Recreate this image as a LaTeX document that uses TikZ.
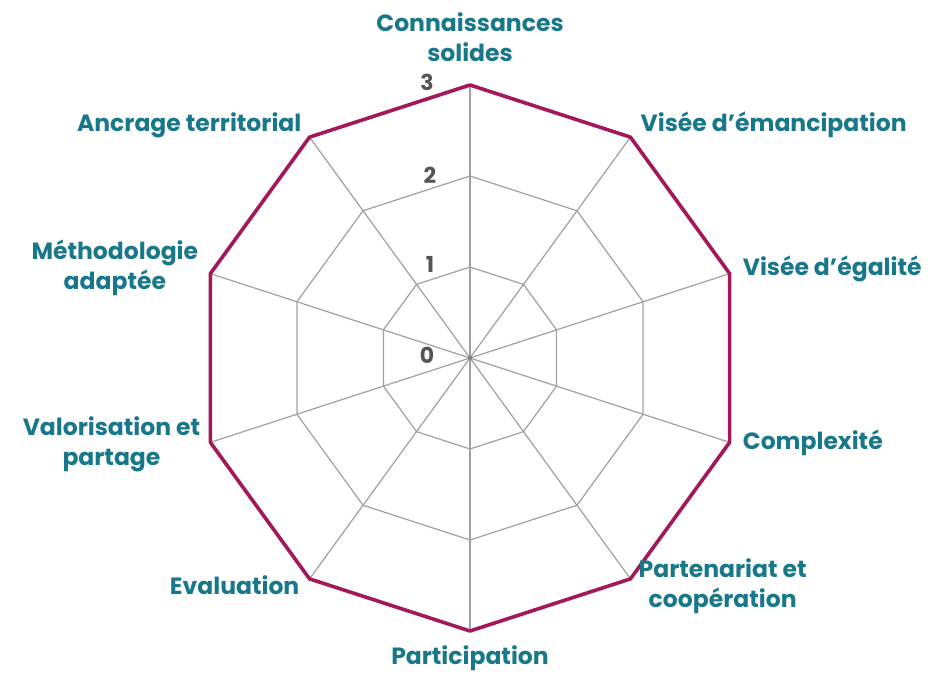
\documentclass[tikz,border=0pt]{standalone}
\usepackage{fontspec}
\setmainfont{Poppins}
\usetikzlibrary{positioning}
\definecolor{axisteal}{RGB}{24,120,138}
\definecolor{scorered}{RGB}{163,24,88}
\definecolor{gridgray}{RGB}{160,160,160}
\definecolor{levelgray}{RGB}{85,85,85}
\tikzset{
  grid/.style={draw=gridgray, line width=1.2pt},
  score/.style={draw=scorered, line width=3.6pt, line join=round},
  axislabel/.style={text=axisteal, font=\fontsize{23.5}{30}\selectfont\bfseries,
    align=center, inner sep=0pt},
  levellabel/.style={text=levelgray, font=\fontsize{22}{24}\selectfont\bfseries,
    inner sep=0pt}
}
\begin{document}
\begin{tikzpicture}[x=1pt,y=1pt]
      \useasboundingbox (-470,-314) rectangle (463,358);
      % spokes
      \begin{scope}[grid]
        \draw (0,0) -- (90:273);
        \draw (0,0) -- (54:273);
        \draw (0,0) -- (18:273);
        \draw (0,0) -- (-18:273);
        \draw (0,0) -- (-54:273);
        \draw (0,0) -- (-90:273);
        \draw (0,0) -- (-126:273);
        \draw (0,0) -- (-162:273);
        \draw (0,0) -- (162:273);
        \draw (0,0) -- (126:273);
        % levels 1 and 2
        \draw (90:91) -- (54:91) -- (18:91) -- (-18:91) -- (-54:91) -- (-90:91)
          -- (-126:91) -- (-162:91) -- (162:91) -- (126:91) -- cycle;
        \draw (90:182) -- (54:182) -- (18:182) -- (-18:182) -- (-54:182) -- (-90:182)
          -- (-126:182) -- (-162:182) -- (162:182) -- (126:182) -- cycle;
      \end{scope}
      \fill[gridgray!80!black] (0,0) circle (2.2);
      % scores
      \draw[score]
        (90:273) coordinate (v0)
        -- (54:273) coordinate (v1)
        -- (18:273) coordinate (v2)
        -- (-18:273) coordinate (v3)
        -- (-54:273) coordinate (v4)
        -- (-90:273) coordinate (v5)
        -- (-126:273) coordinate (v6)
        -- (-162:273) coordinate (v7)
        -- (162:273) coordinate (v8)
        -- (126:273) coordinate (v9) -- cycle;
      % scale
      \node[levellabel] (n0) at (-43,3) {0};
      \node[levellabel] (n1) at (-40,94) {1};
      \node[levellabel] (n2) at (-40,183) {2};
      \node[levellabel] (n3) at (-43,276) {3};
      % axis names
      \node[axislabel] (conn) at ([yshift=48pt]v0) {Connaissances\\solides};
      \node[axislabel, right=10pt of v1, yshift=12pt] (eman) {Visée d’émancipation};
      \node[axislabel, right=13pt of v2, yshift=5pt] (egal) {Visée d’égalité};
      \node[axislabel, right=13pt of v3, yshift=0pt] (comp) {Complexité};
      \node[axislabel, right=8pt of v4, yshift=-7pt] (part) {Partenariat et\\coopération};
      \node[axislabel, below=14pt of v5] (parti) {Participation};
      \node[axislabel, left=10pt of v6, yshift=-6pt] (eval) {Evaluation};
      \node[axislabel, left=10pt of v7, yshift=-2pt] (valo) {Valorisation et\\partage};
      \node[axislabel, left=12pt of v8, yshift=6pt] (meth) {Méthodologie\\adaptée};
      \node[axislabel, left=8pt of v9, yshift=12pt] (ancr) {Ancrage territorial};
    \end{tikzpicture}
\end{document}
